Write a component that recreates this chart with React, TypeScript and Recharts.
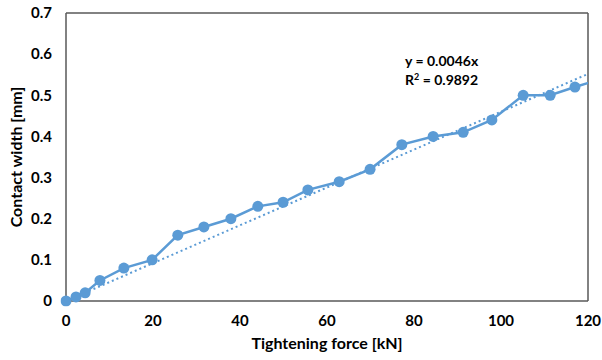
import React from "react";
import {
  ComposedChart,
  Line,
  XAxis,
  YAxis,
  Label,
  ReferenceLine,
} from "recharts";

// measured contact width vs. tightening force
const forceKN = [0, 2.3, 4.4, 7.8, 13.3, 19.8, 25.7, 31.7, 37.9, 44.1, 49.9, 55.6, 62.8, 69.9, 77.2, 84.4, 91.3, 97.9, 105.1, 111.3, 117.0, 123.0];
const widthMM = [0, 0.01, 0.02, 0.05, 0.08, 0.1, 0.16, 0.18, 0.2, 0.23, 0.24, 0.27, 0.29, 0.32, 0.38, 0.4, 0.41, 0.44, 0.5, 0.5, 0.52, 0.54];

// linear fit through origin
const slope = 0.0046;
const rSquared = 0.9892;
const fitRange = [0, 120];

const xTicks = [0, 20, 40, 60, 80, 100, 120];
const yTicks = [0, 0.1, 0.2, 0.3, 0.4, 0.5, 0.6, 0.7];

const X_MAX = 120;

const measured = forceKN.map((x, i) => ({ x, y: widthMM[i] }));
// markers only for points inside the axis range (they are drawn unclipped)
const markers = measured.filter((p) => p.x <= X_MAX);
const trend = fitRange.map((x) => ({ x, y: slope * x }));

const BLUE = "#5B9BD5";
const AXIS = "#595959";
const FONT = "Lato, 'Open Sans', sans-serif";

const tickStyle = { fill: "#000", fontSize: 15, fontWeight: 700, fontFamily: FONT };

const App = () => {
  return (
    <div style={{ position: "absolute", left: 0, top: 0, background: "#fff" }}>
      <ComposedChart
        width={602}
        height={360}
        margin={{ top: 13, right: 14, bottom: 9, left: 10 }}
      >
        <XAxis
          dataKey="x"
          type="number"
          domain={[0, X_MAX]}
          ticks={xTicks}
          allowDataOverflow
          height={50}
          tickLine={false}
          tickMargin={8}
          axisLine={{ stroke: AXIS, strokeWidth: 1.5 }}
          tick={tickStyle}
        >
          <Label
            value="Tightening force [kN]"
            position="insideBottom"
            offset={2}
            style={{ fill: "#000", fontSize: 16, fontWeight: 700, fontFamily: FONT }}
          />
        </XAxis>
        <YAxis
          type="number"
          domain={[0, 0.7]}
          ticks={yTicks}
          width={56}
          tickLine={false}
          tickMargin={8}
          axisLine={{ stroke: AXIS, strokeWidth: 1.5 }}
          tick={tickStyle}
          tickFormatter={(v) => (v === 0 ? "0" : v.toFixed(1))}
        >
          <Label
            value="Contact width [mm]"
            angle={-90}
            position="insideLeft"
            offset={6}
            style={{ textAnchor: "middle", fill: "#000", fontSize: 16, fontWeight: 700, fontFamily: FONT }}
          />
        </YAxis>
        {/* closing frame on the top and right sides */}
        <ReferenceLine y={0.7} stroke={AXIS} strokeWidth={1.5} />
        <ReferenceLine x={X_MAX} stroke={AXIS} strokeWidth={1.5} />
        <Line
          data={trend}
          dataKey="y"
          type="linear"
          stroke={BLUE}
          strokeWidth={2}
          strokeDasharray="2 3"
          dot={false}
          isAnimationActive={false}
        />
        <Line
          data={measured}
          dataKey="y"
          type="linear"
          stroke={BLUE}
          strokeWidth={2.5}
          dot={false}
          isAnimationActive={false}
        />
        <Line
          data={markers}
          dataKey="y"
          type="linear"
          stroke="none"
          dot={{ r: 5.5, fill: BLUE, stroke: BLUE, strokeWidth: 0, clipDot: false }}
          isAnimationActive={false}
        />
      </ComposedChart>
      <div
        style={{
          position: "absolute",
          left: 405,
          top: 51,
          fontFamily: FONT,
          fontWeight: 700,
          fontSize: 14,
          lineHeight: "19px",
          color: "#000",
        }}
      >
        <div>y = {slope}x</div>
        <div>
          R<sup style={{ fontSize: 9, verticalAlign: "5px", lineHeight: 0 }}>2</sup> = {rSquared}
        </div>
      </div>
    </div>
  );
};

export default App;
